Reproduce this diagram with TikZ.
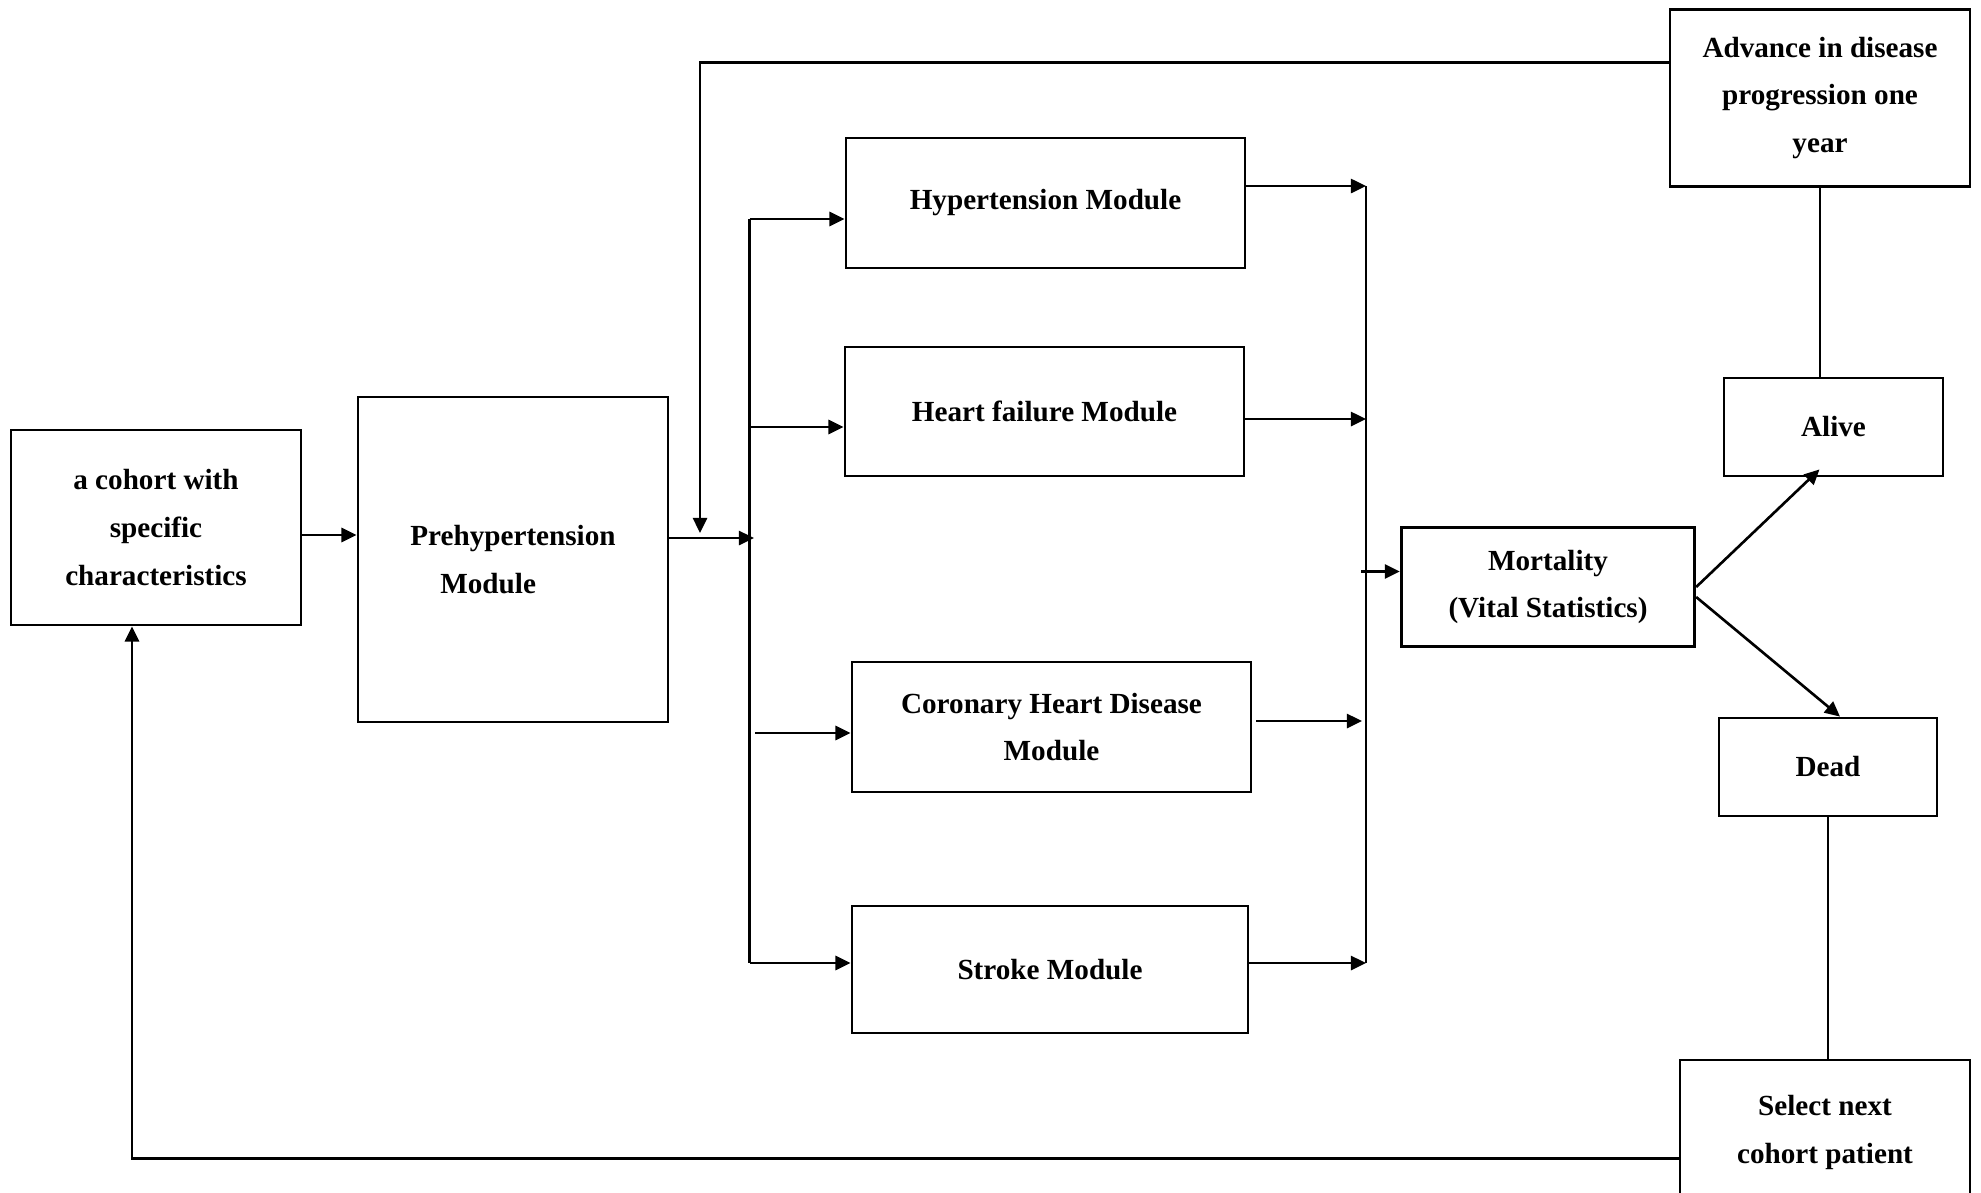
\documentclass[tikz,border=0pt]{standalone}
\usepackage{fontspec}
\setmainfont{Liberation Serif}
\usetikzlibrary{arrows.meta}

\begin{document}
\begin{tikzpicture}[font=\bfseries\fontsize{8.3}{13.6}\selectfont,
  modbox/.style={draw,line width=0.8pt,align=center,inner sep=0pt},
  flow/.style={line width=0.75pt,-{Triangle[length=4.3pt,width=4pt]}},
  link/.style={line width=0.75pt}]
  \useasboundingbox (0,0) rectangle (19.81,-11.92);
  \node[modbox,minimum width=2.90cm,minimum height=1.95cm] (cohort) at (1.56,-5.275) {a cohort with\\specific\\characteristics};
  \node[modbox,align=left,minimum width=3.10cm,minimum height=3.25cm] (prehyp) at (5.13,-5.595) {Prehypertension\\\hspace*{0.3cm}Module};
  \node[modbox,minimum width=3.99cm,minimum height=1.30cm] (hyper) at (10.455,-2.03) {Hypertension Module};
  \node[modbox,minimum width=3.99cm,minimum height=1.29cm] (hf) at (10.445,-4.115) {Heart failure Module};
  \node[modbox,minimum width=3.99cm,minimum height=1.30cm] (chd) at (10.515,-7.27) {Coronary Heart Disease\\Module};
  \node[modbox,minimum width=3.96cm,minimum height=1.27cm] (stroke) at (10.50,-9.695) {Stroke Module};
  \node[modbox,minimum width=2.935cm,minimum height=1.195cm] (mort) at (15.48,-5.87) {Mortality\\(Vital Statistics)};
  \node[modbox,minimum width=3.0cm,minimum height=1.777cm] (advance) at (18.2,-0.98) {Advance in disease\\progression one\\year};
  \node[modbox,minimum width=2.19cm,minimum height=0.98cm] (alive) at (18.335,-4.27) {Alive};
  \node[modbox,minimum width=2.18cm,minimum height=0.98cm] (dead) at (18.28,-7.67) {Dead};
  \node[modbox,minimum width=2.90cm,minimum height=1.45cm] (select) at (18.25,-11.325) {Select next\\cohort patient};

  \coordinate (lb1) at (7.495,-2.19);
  \coordinate (lb2) at (7.495,-4.27);
  \coordinate (lb3) at (7.55,-7.33);
  \coordinate (lb4) at (7.495,-9.63);
  \coordinate (rb1) at (13.66,-1.86);
  \coordinate (rb2) at (13.66,-4.19);
  \coordinate (rb3) at (13.62,-7.21);
  \coordinate (rb4) at (13.66,-9.63);
  \coordinate (fb) at (7.00,-5.33);

  \draw[flow] (cohort.east |- 0,-5.35) -- (prehyp.west |- 0,-5.35);
  \draw[flow] (prehyp.east |- 0,-5.38) -- (7.54,-5.38);
  \draw[flow] (advance.west |- 0,-0.627) -| (fb);
  \draw[link] (lb1) -- (lb4);
  \draw[flow] (lb1) -- (lb1 -| hyper.west);
  \draw[flow] (lb2) -- (lb2 -| hf.west);
  \draw[flow] (lb3) -- (lb3 -| chd.west);
  \draw[flow] (lb4) -- (lb4 -| stroke.west);
  \draw[link] (rb1) -- (rb4);
  \draw[flow] (rb1 -| hyper.east) -- (rb1);
  \draw[flow] (rb2 -| hf.east) -- (rb2);
  \draw[flow] ([xshift=0.04cm]rb3 -| chd.east) -- (rb3);
  \draw[flow] (rb4 -| stroke.east) -- (rb4);
  \draw[flow] (13.61,-5.715) -- (mort.west |- 0,-5.715);
  \draw[flow] (mort.east) -- ([xshift=-0.14cm,yshift=0.08cm]alive.south);
  \draw[flow] ([yshift=-0.1cm]mort.east) -- ([xshift=0.12cm]dead.north);
  \draw[link] (advance.south) -- (advance.south |- alive.north);
  \draw[link] (dead.south) -- (dead.south |- select.north);
  \draw[flow] (select.west |- 0,-11.584) -| ([xshift=-0.24cm]cohort.south);
\end{tikzpicture}
\end{document}
